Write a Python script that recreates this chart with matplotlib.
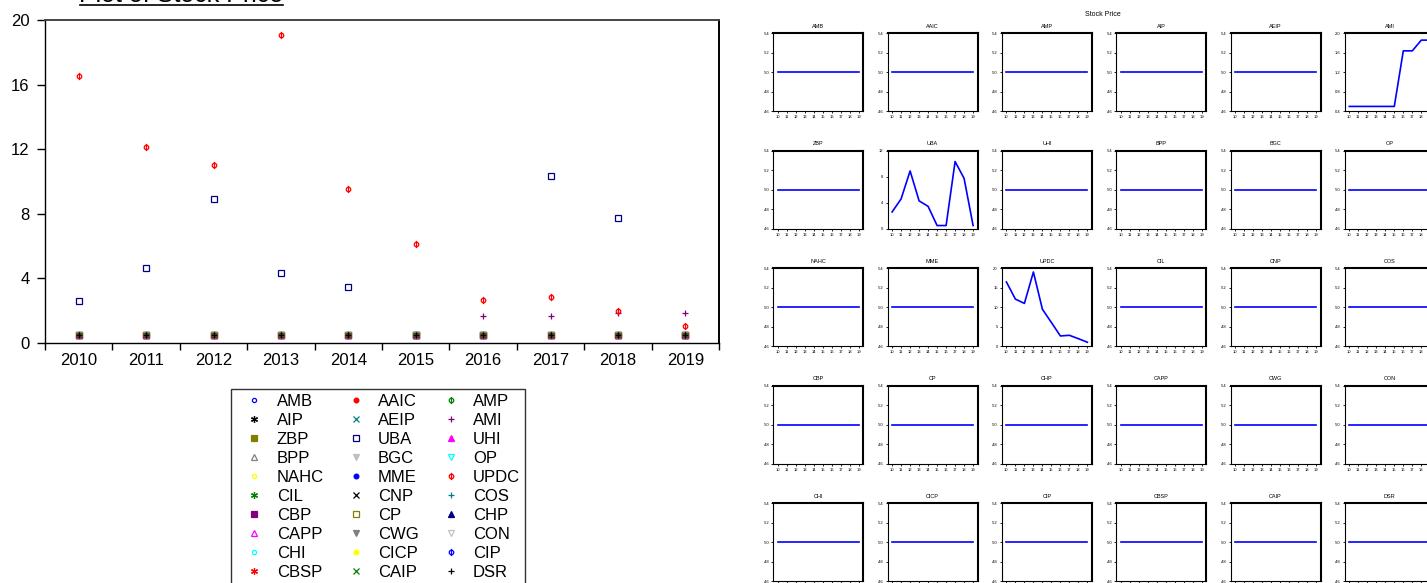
import matplotlib
matplotlib.use("Agg")
import matplotlib.pyplot as plt
from matplotlib.lines import Line2D
from matplotlib.path import Path
from matplotlib.ticker import FixedLocator, FuncFormatter

plt.rcParams['font.family'] = ['Liberation Sans', 'DejaVu Sans']

# ---------------- data ----------------
years = [2010, 2011, 2012, 2013, 2014, 2015, 2016, 2017, 2018, 2019]
year_labels = ['2010', '2011', '2012', '2013', '2014', '2015', '2016', '2017', '2018', '2019']
short_labels = ['10', '11', '12', '13', '14', '15', '16', '17', '18', '19']

series_names = ['AMB', 'AAIC', 'AMP', 'AIP', 'AEIP', 'AMI',
                'ZBP', 'UBA', 'UHI', 'BPP', 'BGC', 'OP',
                'NAHC', 'MME', 'UPDC', 'CIL', 'CNP', 'COS',
                'CBP', 'CP', 'CHP', 'CAPP', 'CWG', 'CON',
                'CHI', 'CICP', 'CIP', 'CBSP', 'CAIP', 'DSR']

flat_price = [0.5, 0.5, 0.5, 0.5, 0.5, 0.5, 0.5, 0.5, 0.5, 0.5]
ami_price = [0.5, 0.5, 0.5, 0.5, 0.5, 0.5, 1.64, 1.64, 1.86, 1.86]
uba_price = [2.59, 4.6, 8.9, 4.3, 3.45, 0.5, 0.5, 10.35, 7.75, 0.5]
updc_price = [16.5, 12.1, 11.0, 19.05, 9.5, 6.1, 2.65, 2.82, 1.95, 1.04]

values = {name: flat_price for name in series_names}
values['AMI'] = ami_price
values['UBA'] = uba_price
values['UPDC'] = updc_price

# ---------------- styles ----------------
phi_marker = Path.make_compound_path(
    Path.unit_circle(),
    Path([[0, -1.6], [0, 1.6]], [Path.MOVETO, Path.LINETO]))

palette = ['#0000ff', '#ff0000', '#008000', '#000000', '#008080', '#800080',
           '#808000', '#000080', '#ff00ff', '#808080', '#c0c0c0', '#00ffff', '#ffff00']
marker_cycle = [('o', False, 3.0), ('o', True, 3.4), (phi_marker, False, 5.2),
                ((6, 2, 0), True, 5.0), ('x', True, 4.2), ('+', True, 5.0),
                ('s', True, 4.4), ('s', False, 4.6), ('^', True, 4.6),
                ('^', False, 4.4), ('v', True, 4.6), ('v', False, 4.4)]

# panel axis scales (min, max, step) for non-constant series
panel_scales = {'AMI': (0.4, 2.0, 0.4, '{:.1f}'),
                'UBA': (0, 12, 4, '{:.0f}'),
                'UPDC': (0, 20, 5, '{:.0f}')}
default_scale = (0.46, 0.54, 0.02, 'lead')

W, H = 1427, 583
fig = plt.figure(figsize=(W / 100, H / 100), dpi=100)

def rect(l, t, w, h):
    return [l / W, 1 - (t + h) / H, w / W, h / H]

# ---------------- left scatter plot ----------------
ax = fig.add_axes(rect(45, 20, 674, 322.7))
xs = list(range(len(years)))
handles = []
for i, name in enumerate(series_names):
    col = palette[i % len(palette)]
    mk, filled, ms = marker_cycle[i % len(marker_cycle)]
    h, = ax.plot(xs, values[name], linestyle='none', marker=mk, color=col,
                 mfc=col if filled else 'none', mec=col, ms=ms, mew=0.9,
                 label=name, clip_on=False)
    handles.append(h)

ax.set_xlim(-0.5, len(years) - 0.5)
ax.set_ylim(0, 20)
ax.set_yticks([0, 4, 8, 12, 16, 20])
ax.set_yticklabels(['0', '4', '8', '12', '16', '20'])
ax.xaxis.set_major_locator(FixedLocator([x - 0.5 for x in range(len(years) + 1)]))
ax.xaxis.set_major_formatter(FuncFormatter(lambda v, p: ''))
ax.xaxis.set_minor_locator(FixedLocator(xs))
ax.xaxis.set_minor_formatter(FuncFormatter(lambda v, p: year_labels[int(round(v))]))
ax.tick_params(axis='x', which='major', direction='out', length=5, width=1)
ax.tick_params(axis='x', which='minor', length=0, pad=7.5, labelsize=12)
ax.tick_params(axis='y', direction='out', length=6, width=1, pad=5, labelsize=12)
for s in ['left', 'bottom']:
    ax.spines[s].set_linewidth(1.0)
ax.spines['top'].set_linewidth(1.4)
ax.spines['top'].set_color('#444444')
ax.spines['right'].set_linewidth(1.4)

# title (cut off at top edge) with underline
fig.text(181.5 / W, 1 - 2.5 / H, 'Plot of Stock Price', ha='center', va='baseline',
         fontsize=18)
fig.add_artist(Line2D([80 / W, 283 / W], [1 - 5 / H, 1 - 5 / H], color='black', lw=1.2))

# legend, row-major order in 3 columns
order = list(range(0, 30, 3)) + list(range(1, 30, 3)) + list(range(2, 30, 3))
leg = fig.legend([handles[k] for k in order], [series_names[k] for k in order],
                 loc='upper left', bbox_to_anchor=(231 / W, 1 - 389 / H),
                 ncol=3, fontsize=12, frameon=True, fancybox=False,
                 edgecolor='black', handlelength=2.2, handletextpad=0.25,
                 columnspacing=0.8, labelspacing=0.24, borderpad=0.3,
                 borderaxespad=0)
leg.get_frame().set_linewidth(1.0)

# ---------------- right grid of small line charts ----------------
fig.text(1103 / W, 1 - 15 / H, 'Stock Price', ha='center', va='center', fontsize=5)
ncols = 6
for i, name in enumerate(series_names):
    r, c = divmod(i, ncols)
    pax = fig.add_axes(rect(773.3 + c * 114.3, 33.3 + r * 117.5, 90, 78))
    pax.plot(years, values[name], color='#0000ff', lw=1.2)
    lo, hi, step, fmt = panel_scales.get(name, default_scale)
    pax.set_ylim(lo, hi)
    n = int(round((hi - lo) / step))
    ticks = [lo + k * step for k in range(n + 1)]
    pax.set_yticks(ticks)
    if fmt == 'lead':
        pax.set_yticklabels(['{:.2f}'.format(t).lstrip('0') for t in ticks])
    else:
        pax.set_yticklabels([fmt.format(t) for t in ticks])
    pax.set_xlim(years[0] - 0.5, years[-1] + 0.5)
    pax.set_xticks(years)
    pax.set_xticklabels(short_labels)
    pax.tick_params(direction='out', length=1.5, width=0.6, pad=1.5, labelsize=3)
    pax.set_title(name, fontsize=4, pad=4)
    pax.spines['top'].set_linewidth(1.5)
    pax.spines['right'].set_linewidth(1.5)
    pax.spines['left'].set_linewidth(0.8)
    pax.spines['bottom'].set_linewidth(0.8)

fig.savefig('out.png', dpi=100)
